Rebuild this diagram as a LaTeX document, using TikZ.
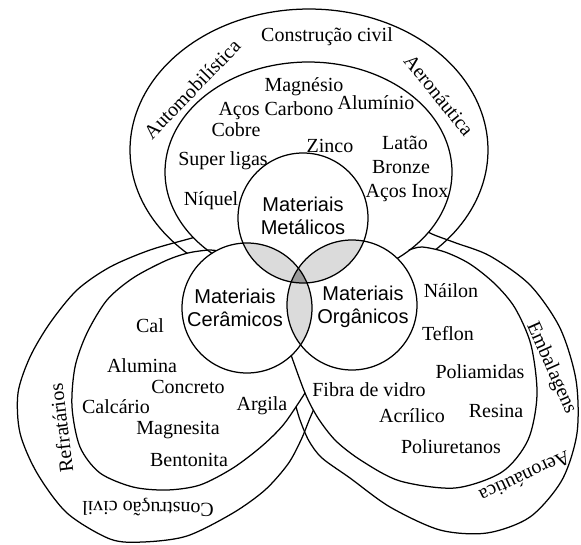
\documentclass[tikz,border=0pt]{standalone}
\usepackage{fontspec}
\setmainfont{Liberation Serif}
\newfontfamily\matsans{Liberation Sans}
\definecolor{lensgray}{HTML}{DBDBDB}
\definecolor{triplegray}{HTML}{9A9A9A}
\begin{document}
\begin{tikzpicture}[x=1pt,y=-1pt,
  curve/.style={line width=1.25pt, line join=round, line cap=round},
  lbl/.style={font=\fontsize{20}{22}\selectfont, inner sep=0pt},
  mat/.style={font=\matsans\fontsize{20}{23}\selectfont, align=center, inner sep=0pt},
  rad/.style={radius=65pt}]
\useasboundingbox (0,0) rectangle (581,544);
\coordinate (M) at (303,218);
\coordinate (C) at (247,308);
\coordinate (O) at (352,305);
\coordinate (X) at (300,272);

% ---- outer petals (application bands)
\draw[curve] plot[domain=128:412, samples=140] ({309+179*cos(\x)},{150+141*sin(\x)});
\draw[curve] plot[smooth] coordinates {(205,234) (192,238) (150,250) (110,267) (77,290) (50,323) (30,357) (18,393) (20,433) (37,473) (67,513) (110,539) (143,542) (187,536) (233,513) (265,490) (288,464) (301,440) (310,418) (318,400)};
\draw[curve] plot[smooth] coordinates {(418,226) (432,234) (456,243) (490,256) (530,285) (560,328) (576,380) (577,433) (562,480) (530,517) (487,533) (440,530) (390,507) (350,478) (322,458) (309,441) (300,420) (294,400) (291,393)};

% ---- inner petals: white fills
\fill[white] plot[domain=128:413, samples=140] ({308.5+143.5*cos(\x)},{172+110*sin(\x)}) -- (X) -- cycle;
\fill[white] plot[smooth] coordinates {(222,252) (210,250) (188,253) (165,261) (133,278) (107,300) (87,333) (75,367) (72,407) (80,447) (100,473) (133,487) (167,490) (200,485) (233,468) (262,446) (284,424) (305,393)} -- (290,352) -- (X) -- cycle;
\fill[white] plot[smooth] coordinates {(409,250) (422,247) (445,252) (470,264) (495,284) (515,308) (531,345) (537,395) (528,440) (502,472) (455,488) (400,481) (362,461) (336,441) (318,418) (305,393) (290,352)} -- (X) -- (395,262) -- cycle;

% ---- inner petals: lines
\draw[curve] plot[domain=128:413, samples=140] ({308.5+143.5*cos(\x)},{172+110*sin(\x)});
\draw[curve] plot[smooth] coordinates {(222,252) (210,250) (188,253) (165,261) (133,278) (107,300) (87,333) (75,367) (72,407) (80,447) (100,473) (133,487) (167,490) (200,485) (233,468) (262,446) (284,424) (305,393)};
\draw[curve] plot[smooth] coordinates {(409,250) (422,247) (445,252) (470,264) (495,284) (515,308) (531,345) (537,395) (528,440) (502,472) (455,488) (400,481) (362,461) (336,441) (318,418) (305,393) (290,352)};

% ---- material circles
\fill[white] (M) circle[rad];
\fill[white] (C) circle[rad];
\fill[white] (O) circle[rad];
\begin{scope}
  \clip (M) circle[rad];
  \fill[lensgray] (C) circle[rad];
  \fill[lensgray] (O) circle[rad];
\end{scope}
\begin{scope}
  \clip (C) circle[rad];
  \fill[lensgray] (O) circle[rad];
\end{scope}
\begin{scope}
  \clip (M) circle[rad];
  \clip (C) circle[rad];
  \fill[triplegray] (O) circle[rad];
\end{scope}
\draw[curve] (M) circle[rad];
\draw[curve] (C) circle[rad];
\draw[curve] (O) circle[rad];

% ---- material names
\node[mat] (tM) at (303,216) {Materiais\\Metálicos};
\node[mat] (tC) at (235,308) {Materiais\\Cerâmicos};
\node[mat] (tO) at (363,307) {Materiais\\Orgânicos};

% ---- metals
\node[lbl] (a1) at (327,37) {Construção civil};
\node[lbl, rotate=46] (a2) at (192,89) {Automobilística};
\node[lbl, rotate=-51] (a3) at (439,95) {Aeronáutica};
\node[lbl] (m1) at (304,87) {Magnésio};
\node[lbl] (m2) at (276,111) {Aços Carbono};
\node[lbl] (m3) at (376,103) {Alumínio};
\node[lbl] (m4) at (236,130) {Cobre};
\node[lbl] (m5) at (405,143) {Latão};
\node[lbl] (m6) at (330,146) {Zinco};
\node[lbl] (m7) at (223,161) {Super ligas};
\node[lbl] (m8) at (401,167) {Bronze};
\node[lbl] (m9) at (211,201) {Níquel};
\node[lbl] (m10) at (407,193) {Aços Inox};

% ---- ceramics
\node[lbl] (c1) at (150,326) {Cal};
\node[lbl] (c2) at (142,366) {Alumina};
\node[lbl] (c3) at (188,387) {Concreto};
\node[lbl] (c4) at (116,407) {Calcário};
\node[lbl] (c5) at (262,406) {Argila};
\node[lbl] (c6) at (178,430) {Magnesita};
\node[lbl] (c7) at (189,460) {Bentonita};
\node[lbl, rotate=97] (b1) at (61,428) {Refratários};
\node[lbl, rotate=179] (b2) at (148,507) {Construção civil};

% ---- organics
\node[lbl] (o1) at (451,291) {Náilon};
\node[lbl] (o2) at (448,334) {Teflon};
\node[lbl] (o3) at (480,372) {Poliamidas};
\node[lbl] (o4) at (369,390) {Fibra de vidro};
\node[lbl] (o5) at (412,416) {Acrílico};
\node[lbl] (o6) at (496,411) {Resina};
\node[lbl] (o7) at (451,447) {Poliuretanos};
\node[lbl, rotate=-66] (d1) at (551,368) {Embalagens};
\node[lbl, rotate=205] (d2) at (525,477) {Aeronáutica};
\end{tikzpicture}
\end{document}
